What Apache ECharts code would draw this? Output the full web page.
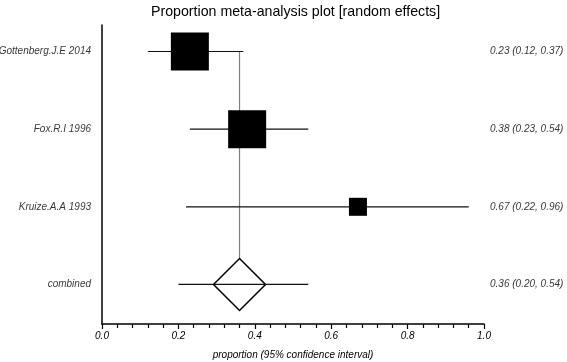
<!DOCTYPE html>
<html>
<head>
<meta charset="utf-8">
<script src="https://cdn.jsdelivr.net/npm/echarts@6/dist/echarts.min.js"></script>
<style>
  html, body {margin: 0; padding: 0; background: #fff;}
  #chart {width: 567px; height: 362px;}
</style>
</head>
<body>
<div id="chart"></div>
<script>
const studies = ['Gottenberg.J.E 2014', 'Fox.R.I 1996', 'Kruize.A.A 1993'];
const estimate = [0.23, 0.38, 0.67];
const lower = [0.12, 0.23, 0.22];
const upper = [0.37, 0.54, 0.96];
const pooledName = 'combined';
const pooled = {est: 0.36, lo: 0.20, hi: 0.54};

const font = 'Liberation Sans, Arial, sans-serif';
const fmt = v => v.toFixed(2);
const pooledRow = studies.length + 1;

const ciData = studies.map((s, i) => [lower[i], upper[i], i + 1]);
ciData.push([pooled.lo, pooled.hi, pooledRow]);

const names = studies.concat([pooledName]);
const rightText = studies.map((s, i) => `${fmt(estimate[i])} (${fmt(lower[i])}, ${fmt(upper[i])})`);
rightText.push(`${fmt(pooled.est)} (${fmt(pooled.lo)}, ${fmt(pooled.hi)})`);

const boxSize = [38, 38, 18];

const myChart = echarts.init(document.getElementById('chart'));
myChart.setOption({
  animation: false,
  title: {
    text: 'Proportion meta-analysis plot [random effects]',
    left: 146,
    top: 0,
    textStyle: {fontFamily: font, fontSize: 14.2, fontWeight: 'normal', color: '#000'}
  },
  grid: {left: 102, right: 83, top: 25, bottom: 38, outerBoundsMode: 'none', containLabel: false},
  xAxis: {
    type: 'value',
    min: 0,
    max: 1,
    interval: 0.2,
    name: 'proportion (95% confidence interval)',
    nameLocation: 'middle',
    nameGap: 26,
    nameTextStyle: {fontFamily: font, fontSize: 10, fontStyle: 'italic', color: '#000'},
    axisLine: {lineStyle: {color: '#000', width: 1.5}},
    axisTick: {length: 5, lineStyle: {color: '#000', width: 1.2}},
    minorTick: {show: true, splitNumber: 5, length: 4, lineStyle: {color: '#000', width: 1.2}},
    axisLabel: {
      fontFamily: font, fontSize: 10, fontStyle: 'italic', color: '#000', margin: 7,
      formatter: v => v.toFixed(1)
    },
    splitLine: {show: false}
  },
  yAxis: {
    type: 'value',
    inverse: true,
    min: 0.659,
    max: 4.509,
    axisLine: {show: true, lineStyle: {color: '#000', width: 1.5}},
    axisTick: {show: false},
    axisLabel: {show: false},
    splitLine: {show: false}
  },
  series: [
    {
      // dotted reference line at the pooled estimate
      type: 'line',
      z: 1,
      symbol: 'none',
      lineStyle: {color: '#000', width: 1.2, type: [1, 1]},
      data: [[pooled.est, 1], [pooled.est, pooledRow]]
    },
    {
      type: 'scatter',
      z: 2,
      symbol: 'diamond',
      symbolSize: 52,
      itemStyle: {color: '#fff', borderColor: '#000', borderWidth: 1.5, opacity: 1},
      data: [[pooled.est, pooledRow]]
    },
    {
      type: 'custom',
      z: 3,
      renderItem(params, api) {
        const a = api.coord([api.value(0), api.value(2)]);
        const b = api.coord([api.value(1), api.value(2)]);
        return {
          type: 'line',
          shape: {x1: a[0], y1: a[1], x2: b[0], y2: b[1]},
          style: {stroke: '#111', lineWidth: 1.2}
        };
      },
      encode: {x: [0, 1], y: 2},
      data: ciData
    },
    {
      type: 'scatter',
      z: 4,
      symbol: 'rect',
      symbolSize: (v, p) => boxSize[p.dataIndex],
      itemStyle: {color: '#000', opacity: 1},
      data: estimate.map((e, i) => [e, i + 1])
    },
    {
      type: 'scatter',
      z: 5,
      symbolSize: 0,
      silent: true,
      label: {
        show: true, position: 'left', distance: 11,
        fontFamily: font, fontSize: 10, fontStyle: 'italic', color: '#000',
        formatter: p => names[p.dataIndex]
      },
      data: names.map((n, i) => [0, i + 1])
    },
    {
      type: 'scatter',
      z: 5,
      symbolSize: 0,
      silent: true,
      label: {
        show: true, position: 'right', distance: 6,
        fontFamily: font, fontSize: 10, fontStyle: 'italic', color: '#000',
        formatter: p => rightText[p.dataIndex]
      },
      data: rightText.map((t, i) => [1, i + 1])
    }
  ]
});
</script>
</body>
</html>
